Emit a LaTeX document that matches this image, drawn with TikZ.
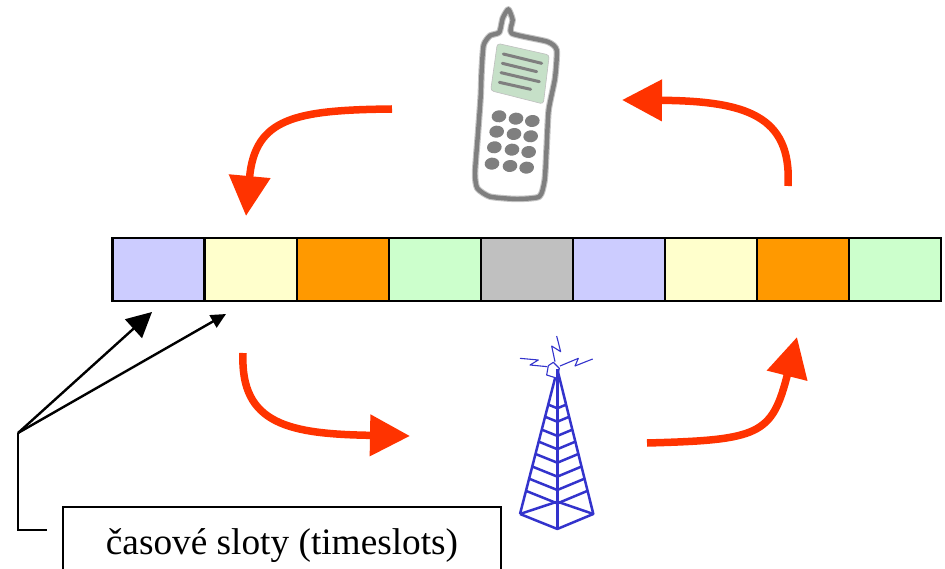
\documentclass[tikz,border=0pt]{standalone}
\usepackage{fontspec}
\setmainfont{Liberation Serif}
\usetikzlibrary{arrows.meta}
\definecolor{slotblue}{HTML}{CCCCFF}
\definecolor{slotyellow}{HTML}{FFFFCC}
\definecolor{slotorange}{HTML}{FF9900}
\definecolor{slotgreen}{HTML}{CCFFCC}
\definecolor{slotgray}{HTML}{C0C0C0}
\definecolor{redarrow}{HTML}{FF3300}
\definecolor{towerblue}{HTML}{3333CC}
\definecolor{phonegray}{HTML}{7F7F7F}
\definecolor{phonescreen}{HTML}{C6E0C8}
\tikzset{
  slotbox/.style={draw=black,line width=2.2pt,minimum width=92.1pt,minimum height=63.5pt,inner sep=0pt,outer sep=0pt},
  bigred/.style={draw=redarrow,line width=7.5pt,-{Triangle[length=40pt,width=40pt]}},
  pointer/.style={draw=black,line width=2.4pt},
  towerline/.style={draw=towerblue,line width=2.5pt,line join=round},
  boltline/.style={draw=towerblue,line width=1.1pt,line join=round},
  labelbox/.style={draw=black,line width=2.2pt,minimum width=438pt,inner xsep=0pt,inner ysep=0pt,text height=47pt,text depth=40pt,anchor=north,font=\fontsize{37.3}{42}\selectfont}
}
\begin{document}
\begin{tikzpicture}[x=1pt,y=-1pt]
\useasboundingbox (0,0) rectangle (945,569);
\clip (0,0) rectangle (945,569);
% slots
\foreach \i/\c in {0/slotblue,1/slotyellow,2/slotorange,3/slotgreen,4/slotgray,5/slotblue,6/slotyellow,7/slotorange,8/slotgreen}{
  \node[slotbox,fill=\c] (s\i) at ({158.5+92.1*\i},269.5) {};
}
% red arrows
\coordinate (a1s) at (392,109); \coordinate (a1e) at (246,216);
\coordinate (a2s) at (788,186); \coordinate (a2e) at (622,100);
\coordinate (a3s) at (243,353); \coordinate (a3e) at (410,436);
\coordinate (a4s) at (647,443); \coordinate (a4e) at (797,337);
\draw[bigred] (a1s) .. controls (295,110) and (255,118) .. (a1e);
\draw[bigred] (a2s) .. controls (792,115) and (745,101) .. (a2e);
\draw[bigred] (a3s) .. controls (240,425) and (290,434) .. (a3e);
\draw[bigred] (a4s) .. controls (760,440) and (772,435) .. (a4e);
% pointers
\coordinate (elbow) at (18,433);
\coordinate (p1) at (152,312);
\coordinate (p2) at (226,314);
\coordinate (pend) at (47,530);
\draw[pointer,-{Triangle[length=25pt,width=25pt]}] (elbow) -- (p1);
\draw[pointer,-{Triangle[length=15pt,width=14pt]}] (elbow) -- (p2);
\draw[pointer,line join=miter] (elbow) -- (18,530) -- (pend);
\node[labelbox] (label) at (282,506) {časové sloty (timeslots)};
% phone
\begin{scope}[shift={(440,0)},x=0.3333pt,y=-0.3333pt]
  \draw[phonegray!45,line width=6.5pt,fill=white,line join=round] plot[smooth cycle,tension=0.35] coordinates {
    (205,28) (188,55) (178,97) (150,107) (131,135) (125,210) (122,290) (114,400) (105,520) (112,565) (150,590) (230,597) (298,590) (314,540) (320,440) (326,330) (345,235) (350,150) (322,125) (215,100) (218,60)};
  \draw[phonegray,line width=4.4pt,line join=round] plot[smooth cycle,tension=0.35] coordinates {
    (205,28) (188,55) (178,97) (150,107) (131,135) (125,210) (122,290) (114,400) (105,520) (112,565) (150,590) (230,597) (298,590) (314,540) (320,440) (326,330) (345,235) (350,150) (322,125) (215,100) (218,60)};
  \filldraw[draw=phonegray!50,fill=phonescreen,line width=0.6pt,rounded corners=3pt] (172,130) -- (328,165) -- (310,312) -- (152,272) -- cycle;
  \draw[phonegray,line width=3pt,line cap=round] (190,162) -- (305,190) (187,190) -- (290,215) (183,218) -- (298,245) (178,247) -- (272,268);
  \foreach \x/\y in {177/349,228/356,277/363,170/395,222/402,272/409,163/442,216/449,266/456,156/491,210/498,260/503}{
    \fill[phonegray,rotate around={7:(\x,\y)}] (\x,\y) ellipse [x radius=22,y radius=18];
  }
\end{scope}
% tower
\begin{scope}[shift={(500,330)},x=0.3333pt,y=-0.3333pt]
  \draw[towerline] (60,552) -- (172,118) -- (280,552) -- (172,597) -- (60,552);
  \draw[towerline] (172,118) -- (172,597);
  \foreach \t in {0.244,0.328,0.417,0.5,0.585,0.672,0.756,0.84}{
    \draw[towerline] ({172-112*\t},{118+434*\t}) -- ({172},{118+479*\t}) -- ({172+108*\t},{118+434*\t});
  }
  \draw[towerline] (60,552) -- (172,515) -- (280,552);
  \draw[boltline,fill=white] (140,135) -- (145,107) -- (160,97) -- (178,115) -- (172,145) -- cycle;
  \draw[towerline] (172,118) -- (172,150);
  \draw[boltline] (60,85) -- (115,90) -- (90,105) -- (142,110);
  \draw[boltline] (170,18) -- (182,65) -- (155,48) -- (165,95);
  \draw[boltline] (278,87) -- (225,108) -- (235,85) -- (180,108);
\end{scope}
\end{tikzpicture}
\end{document}
